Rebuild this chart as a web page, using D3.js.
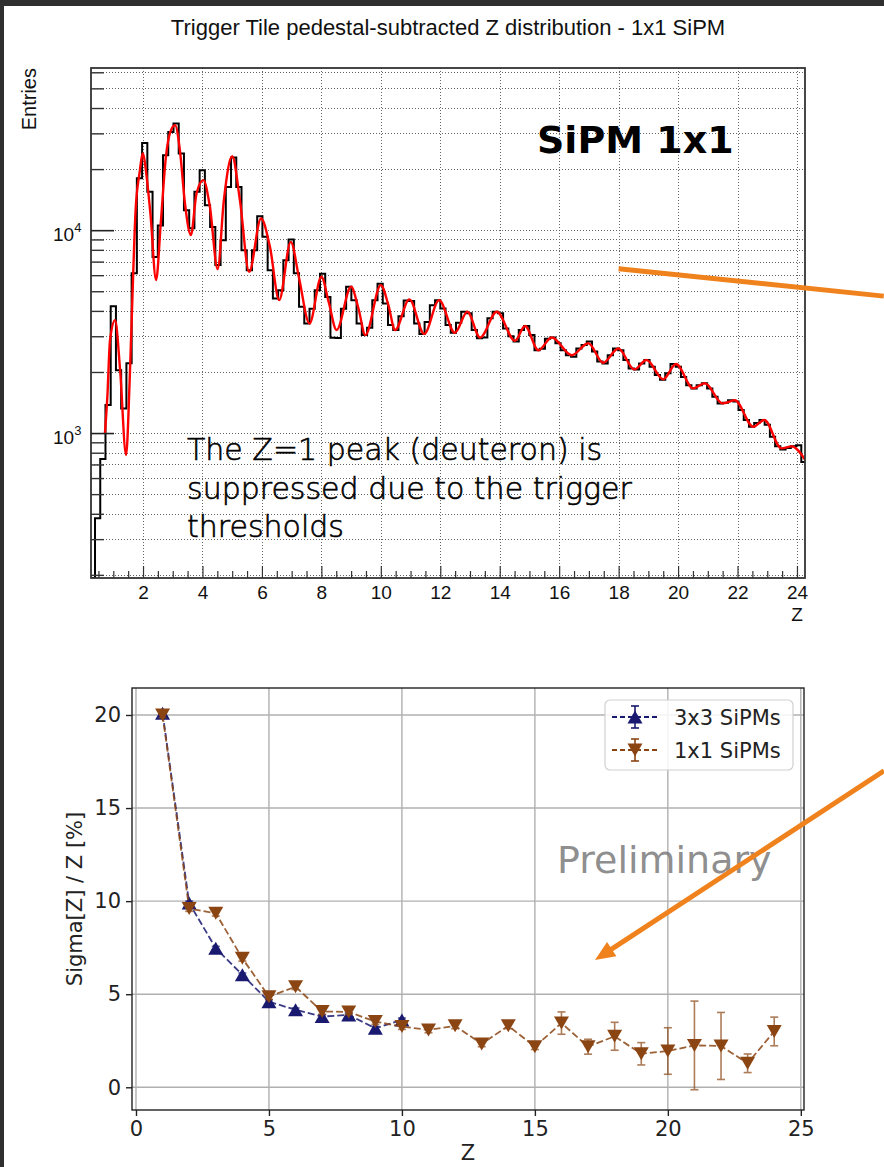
<!DOCTYPE html>
<html><head><meta charset="utf-8">
<script src="https://cdn.jsdelivr.net/npm/d3@7"></script>
<style>
html,body{margin:0;padding:0;background:#fff;}
svg{display:block;}
</style></head>
<body>
<svg id="c" width="884" height="1167"></svg>
<script>
// ================= DATA: top histogram (ROOT) =================
const binStart = 0.209, binWidth = 0.176;
const histCounts = [150,380,745,1375,4220,2040,1320,2210,6140,18050,
26900,15450,7380,10540,23400,30500,33600,23900,12540,10230,
15450,19760,13280,10380,6730,8930,16330,22800,16330,7970,
6350,7970,11700,9270,6350,4610,5060,7110,9000,6140,
4190,3470,4100,5060,6100,4690,2950,2940,4100,5260,
4520,3470,3040,3300,4520,5450,4350,3410,3220,3760,
4500,4480,3470,3080,3530,4270,4520,4110,3410,3120,
3500,3960,3890,3220,2930,2960,3680,3960,3890,3280,
3000,2830,3220,3370,3040,2560,2600,2920,2960,2770,
2560,2420,2380,2610,2720,2830,2520,2250,2200,2420,
2610,2560,2290,2080,2060,2200,2290,2120,1930,1830,
1970,2190,2120,1890,1720,1660,1720,1760,1660,1510,
1400,1410,1450,1430,1300,1160,1075,1120,1160,1100,
960,860,830,845,860,870,720];
const fitZ = [0.72,0.8,0.89,1.06,1.23,1.43,1.55,1.65,1.75,1.88,2.0,2.1,2.25,2.44,2.6,2.77,2.92,3.08,3.24,3.41,3.61,3.8,4.03,4.25,4.51,4.72,5.0,5.26,5.57,5.97,6.27,6.58,6.97,7.25,7.6,8.0,8.25,8.51,9.0,9.25,9.48,10.0,10.25,10.48,10.96,11.46,11.96,12.49,12.91,13.34,13.9,14.51,14.85,15.3,15.75,16.42,16.98,17.48,17.99,18.53,18.94,19.5,19.93,20.51,20.9,21.5,21.91,22.53,22.9,23.48,23.82,24.27];
const fitVal = [1000,1510,2870,3600,2040,780,1800,5000,12500,19000,23900,19500,12000,5680,11000,23000,30500,32900,24800,13600,9450,15150,17650,13030,6430,14050,23150,14050,6230,11420,8280,4520,8760,5800,3470,5890,4400,3220,5260,4100,3040,5360,4300,3220,4560,3080,4520,3120,3960,2960,3960,2850,3370,2560,2960,2420,2770,2220,2610,2060,2290,1840,2190,1660,1760,1400,1450,1075,1160,840,860,740];
const topXTicks = [2,4,6,8,10,12,14,16,18,20,22,24];
const topYMajor = [1000,10000];
const topYMinor = [200,300,400,500,600,700,800,900,2000,3000,4000,5000,6000,7000,8000,9000,20000,30000,40000,50000,60000];
const topTitle = "Trigger Tile pedestal-subtracted Z distribution - 1x1 SiPM";

// ================= DATA: bottom resolution plot =================
const z3x3 = [1,2,3,4,5,6,7,8,9,10];
const sigma3x3 = [20.1,9.9,7.47,6.04,4.6,4.16,3.8,3.89,3.17,3.62];
const err3x3 = [0.1,0.1,0.1,0.1,0.1,0.1,0.1,0.1,0.1,0.1];
const z1x1 = [1,2,3,4,5,6,7,8,9,10,11,12,13,14,15,16,17,18,19,20,21,22,23,24];
const sigma1x1 = [20.0,9.6,9.35,6.93,4.87,5.4,4.07,4.05,3.53,3.26,3.08,3.3,2.33,3.3,2.18,3.45,2.18,2.74,1.8,1.95,2.25,2.22,1.29,3.0];
const err1x1 = [0.15,0.15,0.15,0.15,0.15,0.15,0.15,0.15,0.15,0.15,0.15,0.15,0.15,0.15,0.15,0.6,0.4,0.75,0.6,1.25,2.38,1.8,0.5,0.77];
const botXTicks = [0,5,10,15,20,25];
const botYTicks = [0,5,10,15,20];
const seriesNames = ["3x3 SiPMs","1x1 SiPMs"];
const seriesColors = ["#191970","#8B4513"];

// ================= DRAW =================
const svg = d3.select('#c');
svg.append('rect').attr('width',884).attr('height',1167).attr('fill','#fff');
svg.append('rect').attr('x',0).attr('y',0).attr('width',884).attr('height',6).attr('fill','#2f2f2f');
svg.append('rect').attr('x',0).attr('y',0).attr('width',4).attr('height',1167).attr('fill','#2f2f2f');

const ROOTF = "'Liberation Sans', Arial, Helvetica, sans-serif";
const MPLF = "'DejaVu Sans', sans-serif";

// ---------- top chart ----------
const T = {l:91, r:805, t:68, b:578};
const xT = d3.scaleLinear().domain([0.25, 24.27]).range([T.l, T.r]);
const yT = d3.scaleLog().domain([193, 63000]).range([T.b, T.t]).clamp(true);
const gT = svg.append('g');

svg.append('defs').append('clipPath').attr('id','clipTop')
  .append('rect').attr('x',T.l).attr('y',T.t).attr('width',T.r-T.l).attr('height',T.b-T.t);

// grid
gT.append('g').selectAll('line').data(topXTicks).join('line')
  .attr('x1',d=>Math.round(xT(d))+0.5).attr('x2',d=>Math.round(xT(d))+0.5)
  .attr('y1',T.t).attr('y2',T.b)
  .attr('stroke','#666').attr('stroke-width',1).attr('stroke-dasharray','1,2');
gT.append('g').selectAll('line').data(topYMajor.concat(topYMinor)).join('line')
  .attr('y1',d=>Math.round(yT(d))+0.5).attr('y2',d=>Math.round(yT(d))+0.5)
  .attr('x1',T.l).attr('x2',T.r)
  .attr('stroke','#666').attr('stroke-width',1).attr('stroke-dasharray','1,2');

// histogram (step)
const histPts = [[binStart, 0]];
histCounts.forEach((v,i)=>{
  histPts.push([binStart + i*binWidth, v]);
  histPts.push([binStart + (i+1)*binWidth, v]);
});
const hLine = d3.line().x(d=>xT(d[0])).y(d=> d[1] <= 0 ? T.b+3 : yT(d[1]));
gT.append('path').attr('d', hLine(histPts)).attr('clip-path','url(#clipTop)')
  .attr('fill','none').attr('stroke','#000').attr('stroke-width',2);

// fit (red)
const fLine = d3.line().x((d,i)=>xT(fitZ[i])).y(d=>yT(d)).curve(d3.curveMonotoneX);
gT.append('path').attr('d', fLine(fitVal)).attr('clip-path','url(#clipTop)')
  .attr('fill','none').attr('stroke','#ff0000').attr('stroke-width',2.4);

// frame
gT.append('rect').attr('x',T.l).attr('y',T.t).attr('width',T.r-T.l).attr('height',T.b-T.t)
  .attr('fill','none').attr('stroke','#333').attr('stroke-width',1.8);

// x axis ticks (inward)
const xMinor = d3.range(0.5, 24.3, 0.5).filter(v=>topXTicks.indexOf(v)<0);
gT.append('g').attr('transform',`translate(0,${T.b})`)
  .call(d3.axisBottom(xT).tickValues(xMinor).tickSize(-7).tickFormat(''))
  .call(g=>g.select('.domain').remove())
  .call(g=>g.selectAll('line').attr('stroke','#333').attr('stroke-width',1.2));
gT.append('g').attr('transform',`translate(0,${T.b})`)
  .call(d3.axisBottom(xT).tickValues(topXTicks).tickSize(-12).tickPadding(8).tickFormat(d3.format('d')))
  .call(g=>g.select('.domain').remove())
  .call(g=>g.selectAll('line').attr('stroke','#333').attr('stroke-width',1.2))
  .call(g=>g.selectAll('text').attr('font-family',ROOTF).attr('font-size',19).attr('fill','#111'));
// y axis ticks (inward)
gT.append('g').attr('transform',`translate(${T.l},0)`)
  .call(d3.axisLeft(yT).tickValues(topYMinor).tickSize(-13).tickFormat(''))
  .call(g=>g.select('.domain').remove())
  .call(g=>g.selectAll('line').attr('stroke','#333').attr('stroke-width',1.4));
gT.append('g').attr('transform',`translate(${T.l},0)`)
  .call(d3.axisLeft(yT).tickValues(topYMajor).tickSize(-23).tickFormat(''))
  .call(g=>g.select('.domain').remove())
  .call(g=>g.selectAll('line').attr('stroke','#222').attr('stroke-width',1.6));
// y labels 10^n
topYMajor.forEach(v=>{
  const t = gT.append('text').attr('x',53).attr('y',yT(v)+10.5)
    .attr('font-family',ROOTF).attr('font-size',19).attr('fill','#111');
  t.append('tspan').text('10');
  t.append('tspan').attr('dy',-9).attr('font-size',13).text(String(Math.round(Math.log10(v))));
});
// axis titles
gT.append('text').attr('transform','translate(36,68) rotate(-90)').attr('text-anchor','end')
  .attr('font-family',ROOTF).attr('font-size',20).attr('fill','#111').text('Entries');
gT.append('text').attr('x',xT(24)).attr('y',621).attr('text-anchor','middle')
  .attr('font-family',ROOTF).attr('font-size',19).attr('fill','#111').text('Z');
// title
svg.append('text').attr('x',448).attr('y',35).attr('text-anchor','middle')
  .attr('font-family',ROOTF).attr('font-size',22).attr('fill','#111').text(topTitle);
// slide annotations
svg.append('text').attr('x',537).attr('y',153)
  .attr('font-family',MPLF).attr('font-weight','bold').attr('font-size',38).attr('fill','#000').text('SiPM 1x1');
const noteLines = ["The Z=1 peak (deuteron) is","suppressed due to the trigger","thresholds"];
svg.append('g').selectAll('text').data(noteLines).join('text')
  .attr('x',187).attr('y',(d,i)=>460+i*38.5)
  .attr('font-family',MPLF).attr('font-weight',200).attr('font-size',30).attr('fill','#000')
  .attr('stroke','#000').attr('stroke-width',0.6).text(d=>d);

// ---------- bottom chart ----------
const B = {l:132, r:804, t:688, b:1110};
const xB = d3.scaleLinear().domain([-0.15, 25.12]).range([B.l, B.r]);
const yB = d3.scaleLinear().domain([-1.22, 21.45]).range([B.b, B.t]);
const gB = svg.append('g');

gB.append('g').selectAll('line').data(botXTicks).join('line')
  .attr('x1',d=>xB(d)).attr('x2',d=>xB(d)).attr('y1',B.t).attr('y2',B.b)
  .attr('stroke','#b0b0b0').attr('stroke-width',1.4);
gB.append('g').selectAll('line').data(botYTicks).join('line')
  .attr('y1',d=>yB(d)).attr('y2',d=>yB(d)).attr('x1',B.l).attr('x2',B.r)
  .attr('stroke','#b0b0b0').attr('stroke-width',1.4);

gB.append('g').attr('transform',`translate(0,${B.b})`)
  .call(d3.axisBottom(xB).tickValues(botXTicks).tickSize(6).tickPadding(5).tickFormat(d3.format('d')))
  .call(g=>g.select('.domain').remove())
  .call(g=>g.selectAll('line').attr('stroke','#222').attr('stroke-width',1.4))
  .call(g=>g.selectAll('text').attr('font-family',MPLF).attr('font-size',21).attr('fill','#222'));
gB.append('g').attr('transform',`translate(${B.l},0)`)
  .call(d3.axisLeft(yB).tickValues(botYTicks).tickSize(6).tickPadding(5).tickFormat(d3.format('d')))
  .call(g=>g.select('.domain').remove())
  .call(g=>g.selectAll('line').attr('stroke','#222').attr('stroke-width',1.4))
  .call(g=>g.selectAll('text').attr('font-family',MPLF).attr('font-size',21).attr('fill','#222'));

gB.append('text').attr('x',(B.l+B.r)/2).attr('y',1160).attr('text-anchor','middle')
  .attr('font-family',MPLF).attr('font-size',21).attr('fill','#222').text('Z');
gB.append('text').attr('transform',`translate(82,${(B.t+B.b)/2}) rotate(-90)`).attr('text-anchor','middle')
  .attr('font-family',MPLF).attr('font-size',21).attr('fill','#222').text('Sigma[Z] / Z [%]');

// Preliminary
gB.append('text').attr('x',557).attr('y',873).attr('font-family',MPLF).attr('font-size',38)
  .attr('fill','#7f7f7f').attr('fill-opacity',0.9).text('Preliminary');

function triPath(up, w, h){
  return up ? `M0,${-h/2}L${-w/2},${h/2}L${w/2},${h/2}Z` : `M0,${h/2}L${-w/2},${-h/2}L${w/2},${-h/2}Z`;
}
function drawSeries(zs, vals, errs, color, up){
  const g = gB.append('g');
  const ln = d3.line().x((d,i)=>xB(zs[i])).y(d=>yB(d));
  g.append('path').attr('d',ln(vals)).attr('fill','none').attr('stroke',color)
    .attr('stroke-width',1.8).attr('stroke-dasharray','7,3').attr('opacity',0.85);
  const eb = g.append('g').attr('stroke',color).attr('stroke-width',1.6).attr('opacity',0.7);
  vals.forEach((v,i)=>{
    const x = xB(zs[i]), y1 = yB(v-errs[i]), y2 = yB(v+errs[i]);
    eb.append('line').attr('x1',x).attr('x2',x).attr('y1',y1).attr('y2',y2);
    eb.append('line').attr('x1',x-4).attr('x2',x+4).attr('y1',y1).attr('y2',y1);
    eb.append('line').attr('x1',x-4).attr('x2',x+4).attr('y1',y2).attr('y2',y2);
  });
  g.selectAll('path.m').data(vals).join('path').attr('class','m')
    .attr('transform',(d,i)=>`translate(${xB(zs[i])},${yB(d)})`)
    .attr('d',triPath(up,15,13)).attr('fill',color);
}
drawSeries(z3x3, sigma3x3, err3x3, seriesColors[0], true);
drawSeries(z1x1, sigma1x1, err1x1, seriesColors[1], false);

// spines
gB.append('rect').attr('x',B.l).attr('y',B.t).attr('width',B.r-B.l).attr('height',B.b-B.t)
  .attr('fill','none').attr('stroke','#222').attr('stroke-width',1.4);

// legend
const lg = gB.append('g');
lg.append('rect').attr('x',605).attr('y',700).attr('width',188).attr('height',70).attr('rx',5)
  .attr('fill','#fff').attr('fill-opacity',0.85).attr('stroke','#d0d0d0').attr('stroke-width',1.2);
seriesNames.forEach((name,i)=>{
  const cy = 717 + i*33, c = seriesColors[i];
  lg.append('line').attr('x1',612).attr('x2',657).attr('y1',cy).attr('y2',cy)
    .attr('stroke',c).attr('stroke-width',1.8).attr('stroke-dasharray','5,3');
  lg.append('line').attr('x1',635).attr('x2',635).attr('y1',cy-11).attr('y2',cy+11).attr('stroke',c).attr('stroke-width',1.6);
  lg.append('line').attr('x1',631).attr('x2',639).attr('y1',cy-11).attr('y2',cy-11).attr('stroke',c).attr('stroke-width',1.6);
  lg.append('line').attr('x1',631).attr('x2',639).attr('y1',cy+11).attr('y2',cy+11).attr('stroke',c).attr('stroke-width',1.6);
  lg.append('path').attr('transform',`translate(635,${cy})`).attr('d',triPath(i===0,15,13)).attr('fill',c);
  lg.append('text').attr('x',674).attr('y',cy+8).attr('font-family',MPLF).attr('font-size',21)
    .attr('fill','#222').text(name);
});

// ---------- orange slide arrows ----------
const ORANGE = '#F0821E';
// arrow 1 (top chart coordinates)
svg.append('line').attr('x1',xT(18.0)).attr('y1',yT(6450)).attr('x2',xT(26.92)).attr('y2',yT(4730))
  .attr('stroke',ORANGE).attr('stroke-width',5);
// arrow 2 (bottom chart coordinates)
const ax0 = xB(28.13), ay0 = yB(17.0), ax1 = xB(17.26), ay1 = yB(6.84);
const dx = ax1-ax0, dy = ay1-ay0, len = Math.hypot(dx,dy), ux = dx/len, uy = dy/len;
const headL = 20, headW = 8.5;
const bx = ax1-ux*headL, by = ay1-uy*headL;
svg.append('line').attr('x1',ax0).attr('y1',ay0).attr('x2',bx+ux*2).attr('y2',by+uy*2)
  .attr('stroke',ORANGE).attr('stroke-width',5);
svg.append('path').attr('d',`M${ax1},${ay1}L${bx-uy*headW},${by+ux*headW}L${bx+uy*headW},${by-ux*headW}Z`)
  .attr('fill',ORANGE);
</script>
</body></html>
